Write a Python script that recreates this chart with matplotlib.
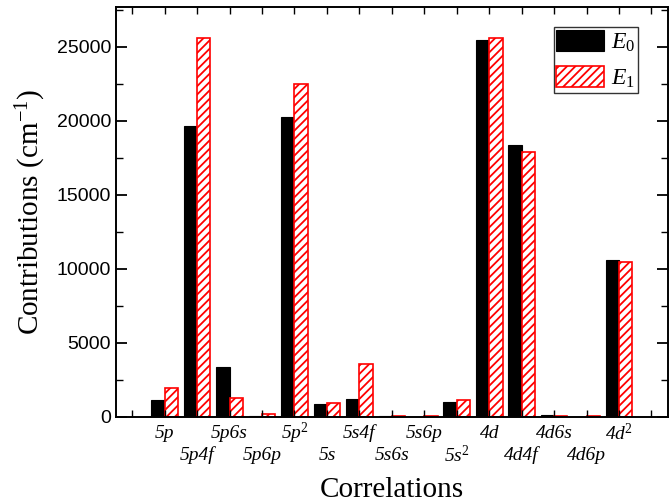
import matplotlib
matplotlib.use("Agg")
import matplotlib.pyplot as plt
import numpy as np
from matplotlib.ticker import MultipleLocator

categories = ["5p", "5p4f", "5p6s", "5p6p", "5p$^2$", "5s", "5s4f", "5s6s",
              "5s6p", "5s$^2$", "4d", "4d4f", "4d6s", "4d6p", "4d$^2$"]
E0 = [1130, 19640, 3340, 20, 20270, 860, 1180, 30, 10, 970, 25450, 18340, 100, 10, 10570]
E1 = [1920, 25600, 1240, 180, 22500, 900, 3540, 30, 20, 1110, 25630, 17890, 70, 60, 10430]

plt.rcParams['mathtext.fontset'] = 'custom'
plt.rcParams['mathtext.rm'] = 'Liberation Serif'
plt.rcParams['mathtext.it'] = 'Liberation Serif:italic'
plt.rcParams['hatch.linewidth'] = 1.3

fig = plt.figure(figsize=(6.72, 5.04), dpi=100)
ax = fig.add_axes([0.1726, 0.1732, 0.8210, 0.8129])

x = np.arange(1, len(categories) + 1)
w = 0.41
ax.bar(x - w / 2, E0, width=w, color='black', edgecolor='black', linewidth=0.8, label='$E_0$')
ax.bar(x + w / 2, E1, width=w, color='white', edgecolor='red', hatch='////', linewidth=1.2, label='$E_1$')

ax.set_xlim(-0.5, 16.5)
ax.set_ylim(0, 27700)

ax.yaxis.set_major_locator(MultipleLocator(5000))
ax.yaxis.set_minor_locator(MultipleLocator(2500))
ax.set_xticks(np.arange(0, 17))
ax.set_xticklabels([])
ax.tick_params(axis='both', which='both', direction='in', top=True, right=True)
ax.tick_params(axis='y', which='major', length=8, width=1.3, labelsize=14)
ax.tick_params(axis='y', which='minor', length=5, width=1.0)
ax.tick_params(axis='x', which='major', length=5, width=1.0)
for lab in ax.get_yticklabels():
    lab.set_fontfamily('Liberation Sans')

for s in ax.spines.values():
    s.set_linewidth(1.4)

# two-row category labels
for i, (xi, name) in enumerate(zip(x, categories)):
    yoff = -0.040 if i % 2 == 0 else -0.094
    ax.text(xi, yoff, name, transform=ax.get_xaxis_transform(), ha='center', va='center',
            fontsize=14, fontfamily='Liberation Serif', fontstyle='italic')

ax.set_xlabel('Correlations', fontsize=21, fontfamily='Liberation Serif', labelpad=40)
ax.set_ylabel('Contributions (cm$^{\\mathrm{-1}}$)', fontsize=21, fontfamily='Liberation Serif', labelpad=6)

leg = ax.legend(loc='upper right', bbox_to_anchor=(0.946, 0.951), fontsize=17, frameon=True,
                fancybox=False, edgecolor='black', handlelength=2.0, handleheight=1.0,
                borderpad=0.12, labelspacing=0.5, handletextpad=0.3, borderaxespad=0)
leg.get_frame().set_linewidth(1.0)

fig.savefig('out.png', dpi=100)
